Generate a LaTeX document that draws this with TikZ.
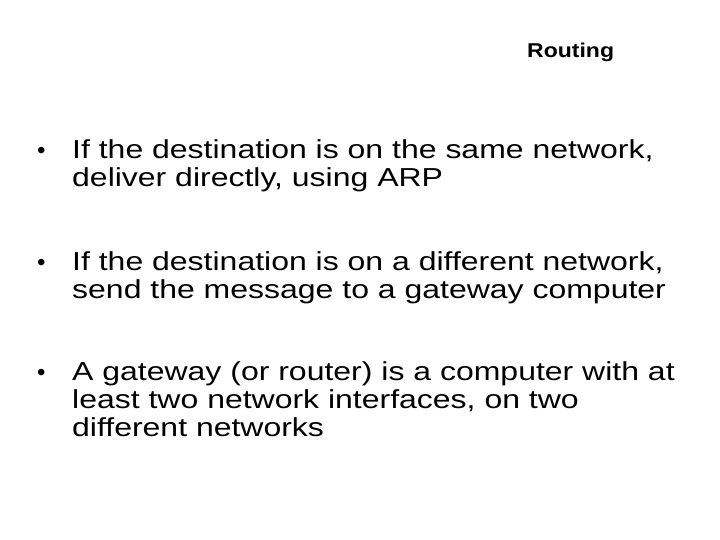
\documentclass[tikz,border=0pt]{standalone}
\usepackage{fontspec}
\setmainfont{Liberation Sans}
\newfontfamily\widefont[FakeStretch=1.23]{Liberation Sans}
\newfontfamily\titlefont[FakeStretch=1.15]{Liberation Sans}
\begin{document}
\begin{tikzpicture}[x=1pt,y=-1pt,
  txt/.style={anchor=base west,inner sep=0pt,font=\widefont\fontsize{26}{28}\selectfont},
  bul/.style={anchor=base west,inner sep=0pt,font=\fontsize{24}{28}\selectfont}]
\useasboundingbox[fill=white] (0,0) rectangle (720,540);
\node[anchor=base west,inner sep=0pt,font=\titlefont\fontsize{20}{22}\selectfont\bfseries] (title) at (527,58) {Routing};
\node[bul] (b1) at (37,159) {•};
\node[txt] (l1) at (72,159) {If the destination is on the same network,};
\node[txt] (l2) at (72,187) {deliver directly, using ARP};
\node[bul] (b2) at (37,270) {•};
\node[txt] (l3) at (72,270) {If the destination is on a different network,};
\node[txt] (l4) at (72,298) {send the message to a gateway computer};
\node[bul] (b3) at (37,380) {•};
\node[txt] (l5) at (72,380) {A gateway (or router) is a computer with at};
\node[txt] (l6) at (72,408) {least two network interfaces, on two};
\node[txt] (l7) at (72,436) {different networks};
\end{tikzpicture}
\end{document}
